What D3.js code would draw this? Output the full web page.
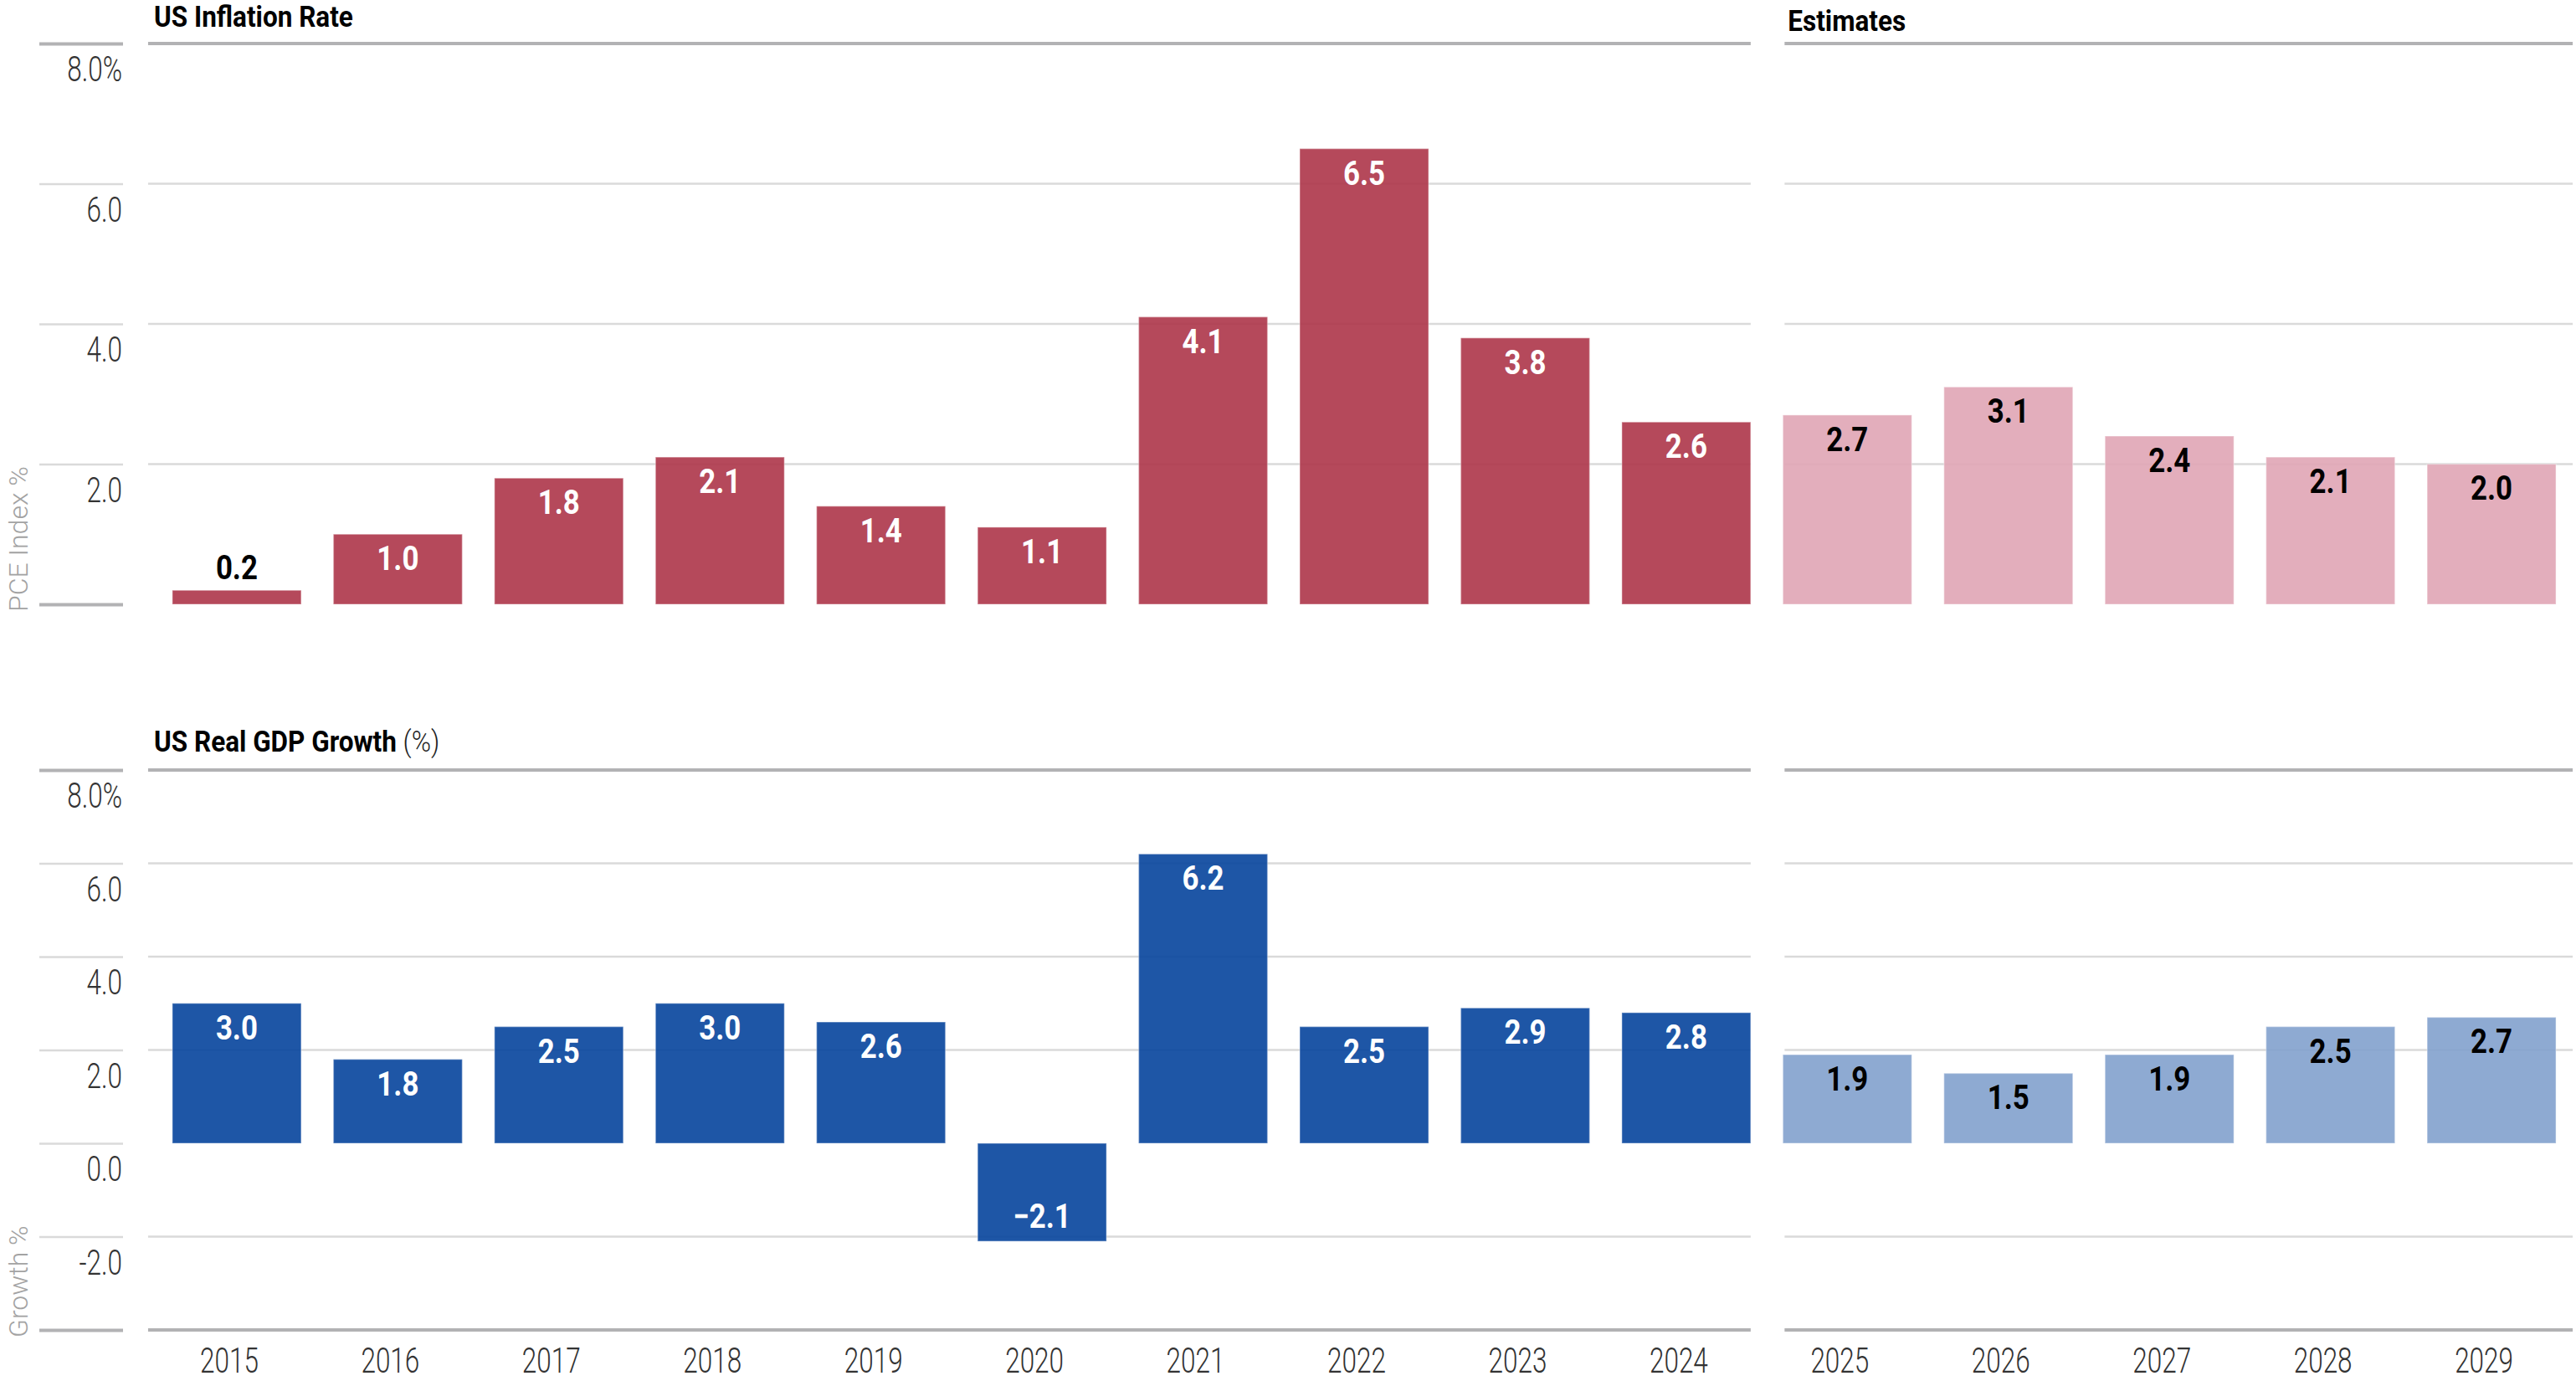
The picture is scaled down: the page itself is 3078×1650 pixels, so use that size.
<!DOCTYPE html>
<html>
<head>
<meta charset="utf-8">
<script src="https://cdn.jsdelivr.net/npm/d3@7"></script>
<style>
    body { margin: 0; background: #fff; }
    svg { display: block; }
</style>
</head>
<body>
<svg id="chart" width="3078" height="1650"></svg>
<script>
var years = ['2015', '2016', '2017', '2018', '2019', '2020', '2021', '2022', '2023', '2024',
             '2025', '2026', '2027', '2028', '2029'];
var firstEstimate = '2025';

var inflation = [0.2, 1.0, 1.8, 2.1, 1.4, 1.1, 4.1, 6.5, 3.8, 2.6, 2.7, 3.1, 2.4, 2.1, 2.0];
var gdpGrowth = [3.0, 1.8, 2.5, 3.0, 2.6, -2.1, 6.2, 2.5, 2.9, 2.8, 1.9, 1.5, 1.9, 2.5, 2.7];

var inflationTicks = [0, 2, 4, 6, 8];
var gdpTicks = [-4, -2, 0, 2, 4, 6, 8];

var FONT = "Roboto, 'Liberation Sans', sans-serif";
var LIGHT_SQUEEZE = 0.75;   // fake a condensed face
var BOLD_SQUEEZE = 0.87;
var TITLE_SQUEEZE = 0.9;

var dom = {};

window.onload = initialize;

function initialize() {
    dom.svg = d3.select('#chart');

    dom.x = d3.scaleBand()
        .domain(years)
        .range([179, 3081])
        .paddingInner(0.2)
        .paddingOuter(0.14);

    drawPanel({
        title: 'US Inflation Rate',
        titleY: 32,
        showEstimatesTitle: true,
        axisTitle: 'PCE Index %',
        values: inflation,
        ticks: inflationTicks,
        y: d3.scaleLinear().domain([0, 8]).range([722, 52]),
        colors: { actual: '#ad3549', estimate: '#e0a5b5' },
        bottomRule: false
    });

    drawPanel({
        title: 'US Real GDP Growth',
        titleSuffix: ' (%)',
        titleY: 898,
        showEstimatesTitle: false,
        axisTitle: 'Growth %',
        values: gdpGrowth,
        ticks: gdpTicks,
        y: d3.scaleLinear().domain([-4, 8]).range([1589, 920]),
        colors: { actual: '#06449c', estimate: '#82a1cd' },
        bottomRule: true
    });

    drawYears();
}

function isEstimate(year) {
    return +year >= +firstEstimate;
}

// squeeze text horizontally around its own x position
function squeeze(sel, k) {
    sel.each(function() {
        var t = d3.select(this);
        var x = +(t.attr('x') || 0);
        var tr = t.attr('transform') || '';
        t.attr('transform', tr + ' scale(' + k + ',1)').attr('x', x / k);
    });
}

function drawPanel(p) {
    var x = dom.x, y = p.y;
    var bw = x.bandwidth();
    var g = dom.svg.append('g');
    var top = y.domain()[1], bottom = y.domain()[0];

    // two grid blocks: history and estimates
    var blocks = [
        [x(years[0]) - 29, x('2024') + bw],
        [x(firstEstimate) + 2, x(years[years.length - 1]) + bw + 20]
    ];

    var gridTicks = p.ticks.filter(function(d) { return d !== 0 && d !== top && d !== bottom; });
    blocks.forEach(function(b) {
        g.selectAll(null)
                .data(gridTicks)
            .enter().append('line')
                .attr('x1', b[0]).attr('x2', b[1])
                .attr('y1', function(d) { return y(d); })
                .attr('y2', function(d) { return y(d); })
                .attr('stroke', '#dadada')
                .attr('stroke-width', 2.5);

        var heavy = p.bottomRule ? [top, bottom] : [top];
        g.selectAll(null)
                .data(heavy)
            .enter().append('line')
                .attr('x1', b[0]).attr('x2', b[1])
                .attr('y1', function(d) { return y(d); })
                .attr('y2', function(d) { return y(d); })
                .attr('stroke', '#b2b2b4')
                .attr('stroke-width', 4);
    });

    // left axis: short rules with labels hanging below
    var axis = d3.axisLeft(y)
        .tickValues(p.ticks)
        .tickSize(100)
        .tickPadding(-99)
        .tickFormat(function(d) {
            if (d === bottom) return '';
            if (d === 0 && !p.bottomRule) return '';
            return d === top ? d.toFixed(1) + '%' : d.toFixed(1);
        });

    var ax = g.append('g')
        .attr('transform', 'translate(147,0)')
        .call(axis);
    ax.select('.domain').remove();
    ax.selectAll('.tick line')
        .attr('stroke', function(d) { return (d === top || d === bottom) ? '#b2b2b4' : '#dadada'; })
        .attr('stroke-width', function(d) { return (d === top || d === bottom) ? 4 : 2.5; });
    ax.selectAll('.tick text')
        .attr('dy', 45)
        .attr('text-anchor', 'end')
        .style('font-family', FONT)
        .style('font-weight', 300)
        .style('font-size', '42px')
        .style('fill', '#333');
    squeeze(ax.selectAll('.tick text'), LIGHT_SQUEEZE);

    // axis title, rotated
    g.append('text')
        .attr('transform', 'translate(33,' + (y(bottom) + 9) + ') rotate(-90)')
        .style('font-family', FONT)
        .style('font-weight', 300)
        .style('font-size', '32px')
        .style('fill', '#a3a3a3')
        .text(p.axisTitle);

    // titles
    var t = g.append('text')
        .attr('x', 184).attr('y', p.titleY)
        .style('font-family', FONT)
        .style('font-size', '35px')
        .style('fill', '#000');
    t.append('tspan').style('font-weight', 'bold').text(p.title);
    if (p.titleSuffix) t.append('tspan').style('font-weight', 300).style('fill', '#222').text(p.titleSuffix);
    squeeze(t, TITLE_SQUEEZE);

    if (p.showEstimatesTitle) {
        var e = g.append('text')
            .attr('x', x(firstEstimate) + 6).attr('y', 37)
            .style('font-family', FONT)
            .style('font-size', '35px')
            .style('font-weight', 'bold')
            .text('Estimates');
        squeeze(e, TITLE_SQUEEZE);
    }

    // bars
    var data = years.map(function(yr, i) { return { year: yr, value: p.values[i] }; });

    g.selectAll('.bar')
            .data(data)
        .enter().append('rect')
            .classed('bar', true)
            .attr('x', function(d) { return x(d.year); })
            .attr('width', bw)
            .attr('y', function(d) { return y(Math.max(0, d.value)); })
            .attr('height', function(d) { return Math.abs(y(d.value) - y(0)); })
            .attr('fill', function(d) { return isEstimate(d.year) ? p.colors.estimate : p.colors.actual; })
            .attr('fill-opacity', 0.9)
            .attr('stroke', '#fff')
            .attr('stroke-opacity', 0.3)
            .attr('stroke-width', 1.5);

    var labels = g.selectAll('.label')
            .data(data)
        .enter().append('text')
            .classed('label', true)
            .attr('x', function(d) { return x(d.year) + bw / 2; })
            .attr('y', function(d) {
                if (d.value < 0) return y(d.value) - 16;
                if (d.value < 0.5) return y(d.value) - 13;
                return y(d.value) + 43;
            })
            .attr('text-anchor', 'middle')
            .style('font-family', FONT)
            .style('font-size', '40px')
            .style('font-weight', 'bold')
            .style('fill', function(d) {
                if (isEstimate(d.year) || (d.value >= 0 && d.value < 0.5)) return '#000';
                return '#fff';
            })
            .text(function(d) { return d3.format('.1f')(d.value); });
    squeeze(labels, BOLD_SQUEEZE);
}

function drawYears() {
    var ax = dom.svg.append('g')
        .attr('transform', 'translate(-9,1589)')
        .call(d3.axisBottom(dom.x).tickSize(0).tickPadding(21));
    ax.select('.domain').remove();
    ax.selectAll('.tick text')
        .style('font-family', FONT)
        .style('font-weight', 300)
        .style('font-size', '42px')
        .style('fill', '#333');
    squeeze(ax.selectAll('.tick text'), LIGHT_SQUEEZE);
}
</script>
</body>
</html>
